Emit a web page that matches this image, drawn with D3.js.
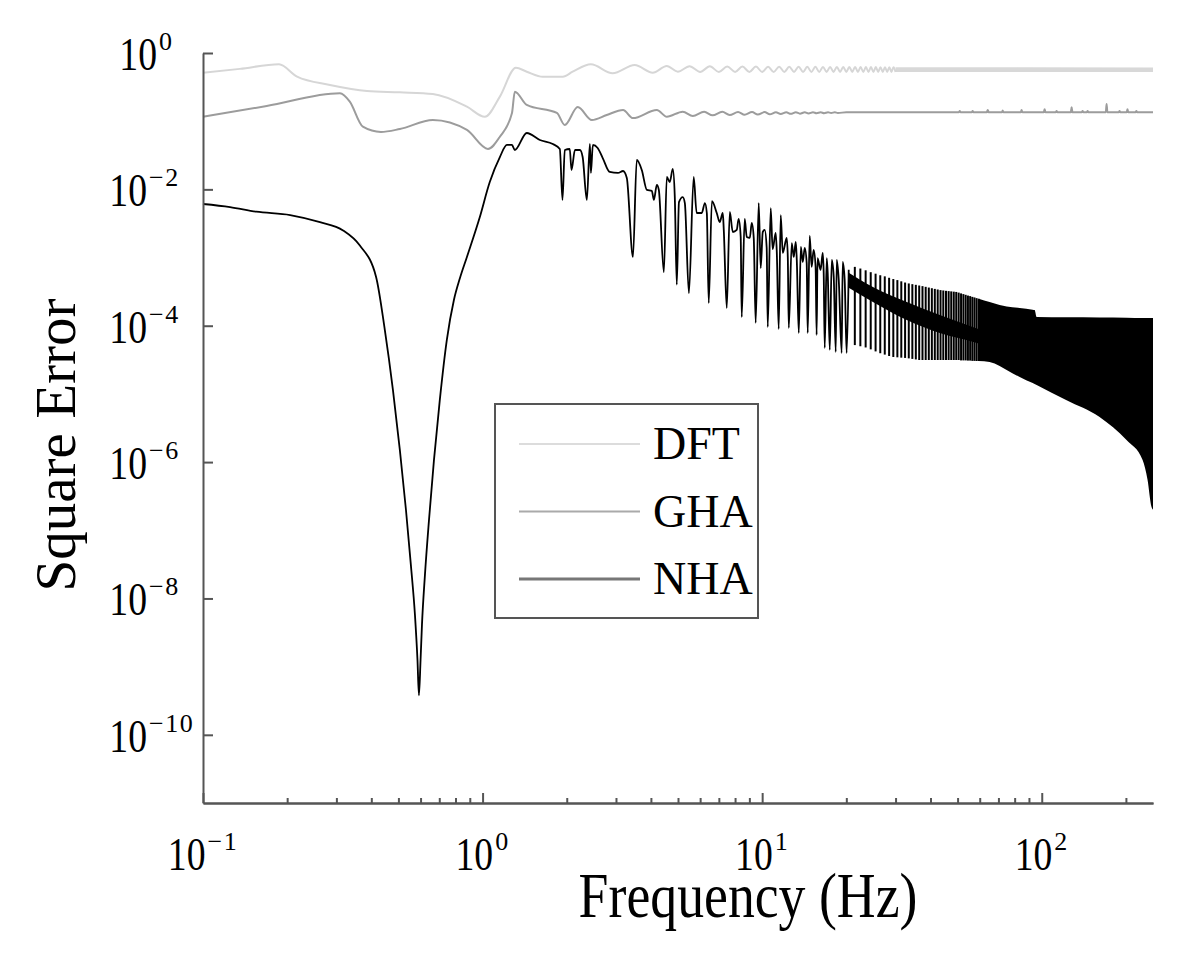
<!DOCTYPE html>
<html><head><meta charset="utf-8">
<script src="https://cdn.jsdelivr.net/npm/d3@7"></script>
<style>body{margin:0;background:#fff} svg{display:block}</style>
</head><body>
<svg id="c" width="1200" height="958"></svg>
<script>
// ---------- tick labels ----------
const xTickValues = [0.1, 1, 10, 100];
const xTickExponents = ["\u22121", "0", "1", "2"];
const yTickValues = [1, 1e-2, 1e-4, 1e-6, 1e-8, 1e-10];
const yTickExponents = ["0", "\u22122", "\u22124", "\u22126", "\u22128", "\u221210"];
const seriesNames = ["DFT", "GHA", "NHA"];
const xLabel = "Frequency (Hz)";
const yLabel = "Square Error";

// ---------- DFT [Hz, square error] ----------
const dftPoints = [[0.100,0.514],[0.1355,0.585],[0.187,0.683],[0.217,0.449],[0.2846,0.340],[0.386,0.277],[0.506,0.265],[0.664,0.250],[0.879,0.163],[1.019,0.116],[1.153,0.229],[1.315,0.609],[1.439,0.532],[1.643,0.449],[1.937,0.449],[2.10,0.532],[2.44,0.683],[2.92,0.504],[3.50,0.667],[4.06,0.514],[4.56,0.645],[4.99,0.532],[5.5,0.64],[6.0,0.528],[6.5,0.637],[7,0.528],[7.5,0.635],[8,0.528],[8.5,0.633],[9,0.528],[9.5,0.632],[10,0.528],[10.5,0.63],[11,0.528],[11.5,0.63],[12,0.528],[12.5,0.628],[13,0.528],[13.5,0.628],[14,0.528],[14.5,0.626],[15,0.528],[15.5,0.626],[16,0.528],[16.5,0.625],[17,0.528],[17.5,0.625],[18,0.528],[18.5,0.624],[19,0.528],[19.5,0.624],[20,0.528],[20.5,0.623],[21,0.528],[21.5,0.623],[22,0.528],[22.5,0.622],[23,0.528],[23.5,0.622],[24,0.528],[24.5,0.621],[25,0.528],[25.5,0.621],[26,0.528],[26.5,0.62],[27,0.528],[27.5,0.62],[28,0.528],[28.5,0.62],[29,0.528],[29.5,0.62],[30,0.528]];
// dense ripple band of DFT (too fine to resolve)
const dftBandFreq = [30, 250];
const dftBandUpper = [0.62, 0.615];
const dftBandLower = [0.528, 0.528];

// ---------- GHA ----------
const ghaPoints = [[0.100,0.116],[0.169,0.167],[0.309,0.256],[0.335,0.193],[0.373,0.083],[0.433,0.0694],[0.506,0.0768],[0.664,0.104],[0.879,0.0743],[1.045,0.0391],[1.153,0.0592],[1.274,0.132],[1.304,0.271],[1.439,0.173],[1.844,0.132],[1.968,0.088],[2.19,0.161],[2.46,0.104],[2.78,0.123],[3.18,0.146],[3.45,0.111],[4.20,0.146],[4.56,0.116],[5.20,0.138],[5.65,0.119],[6.2,0.137],[6.65,0.122],[7.2,0.137],[7.65,0.123],[8.2,0.136],[8.65,0.124],[9.2,0.136],[9.65,0.125],[10.2,0.136],[10.65,0.126],[11.2,0.135],[11.65,0.127],[12.2,0.135],[12.65,0.128],[13.2,0.135],[13.65,0.129],[14.2,0.135],[14.65,0.13],[15.2,0.135],[15.65,0.131],[16.2,0.135],[16.65,0.131],[17.2,0.135],[17.65,0.132],[18.2,0.135],[18.65,0.132],[20,0.135],[50.5,0.135],[50.9,0.141],[51.3,0.135],[56.2,0.135],[56.6,0.141],[57,0.135],[63.6,0.135],[64.1,0.146],[64.6,0.135],[72,0.135],[72.5,0.143],[73,0.135],[84.1,0.135],[84.7,0.146],[85.3,0.135],[101.7,0.135],[102.4,0.150],[103.1,0.135],[112.2,0.135],[113,0.141],[113.8,0.135],[127,0.135],[127.9,0.160],[128.8,0.135],[139,0.135],[140,0.141],[141,0.135],[145,0.135],[145.9,0.141],[146.8,0.135],[169.5,0.135],[170.6,0.179],[171.7,0.135],[188.6,0.135],[189.8,0.141],[191,0.135],[201.4,0.135],[202.6,0.150],[203.8,0.135],[216.6,0.135],[218,0.141],[219.4,0.135],[250,0.135]];

// ---------- NHA (resolved part) ----------
const nhaPoints = [[0.100,6.1e-3],[0.125,5.5e-3],[0.155,4.7e-3],[0.205,4.2e-3],[0.262,3.3e-3],[0.317,2.5e-3],[0.364,1.5e-3],[0.416,5.2e-4],[0.447,8.7e-5],[0.478,1.14e-5],[0.506,1.5e-6],[0.532,2.0e-7],[0.554,3.1e-8],[0.573,5.7e-9],[0.585,1.25e-9],[0.592,3.8e-10],[0.600,1.25e-9],[0.607,4.1e-9],[0.622,2.2e-8],[0.643,1.4e-7],[0.670,1.07e-6],[0.703,8.1e-6],[0.745,6.2e-5],[0.790,2.4e-4],[0.830,5.0e-4],[0.879,1.02e-3],[0.977,3.9e-3],[1.061,0.0128],[1.153,0.0298],[1.222,0.0448],[1.274,0.0448],[1.304,0.0378],[1.439,0.0671],[1.603,0.053],[1.783,0.0463],[1.889,0.0391],[1.931,0.0070],[1.968,0.0378],[2.05,0.0391],[2.08,0.0192],[2.14,0.0378],[2.23,0.0378],[2.28,0.0298],[2.36,0.0070],[2.42,0.0463],[2.44,0.0174],[2.48,0.0448],[2.58,0.0404],[2.69,0.0288],[2.85,0.0180],[3.05,0.0174],[3.18,0.0186],[3.28,0.0147],[3.45,0.00102],[3.56,0.0270],[3.71,0.0192],[3.87,0.0098],[4.03,0.0095],[4.10,0.0070],[4.20,0.0116],[4.27,0.0098],[4.45,0.00061],[4.56,0.0152],[4.67,0.0128],[4.79,0.0199],[4.87,0.0077],[4.95,0.00040],[5.04,0.0065],[5.20,0.0077],[5.29,0.0063],[5.47,0.00030],[5.69,0.0152],[5.83,0.0045],[6.08,0.0045],[6.24,0.0063],[6.34,0.0045],[6.44,0.000215],[6.61,0.0067],[6.88,0.0045],[7.05,0.00332],[7.23,0.0045],[7.29,0.00254],[7.47,0.000182],[7.66,0.00466],[7.85,0.00237],[8.11,0.00254],[8.24,0.00368],[8.38,0.00200],[8.45,0.000134],[8.66,0.00368],[8.81,0.00200],[9.03,0.00194],[9.18,0.00321],[9.33,0.00194],[9.48,0.000110],[9.72,0.0063],[9.88,0.00070],[10.05,0.00237],[10.21,0.00254],[10.38,0.00138],[10.47,0.0000958],[10.73,0.0053],[10.90,0.00133],[11.18,0.00229],[11.28,0.00121],[11.46,0.0000895],[11.65,0.0042],[11.85,0.00117],[12.24,0.00194],[12.35,0.00102],[12.45,0.0000926],[12.76,0.00163],[12.97,0.00102],[13.19,0.00169],[13.30,0.00092],[13.52,0.0000782],[13.75,0.00143],[13.97,0.00086],[14.2,0.00138],[14.43,0.00083],[14.55,0.0000782],[14.79,0.00207],[15.03,0.00073],[15.28,0.00129],[15.53,0.00073],[15.66,0.0000731],[15.78,0.00098],[16.18,0.00066],[16.47,0.00117],[16.60,0.00059],[16.74,0.0000471],[17.02,0.00098],[17.16,0.00059],[17.45,0.0000441],[17.74,0.00092],[18.03,0.00052],[18.33,0.0000412],[18.48,0.00092],[18.79,0.00047],[19.25,0.0000398],[19.41,0.00086],[19.73,0.00047],[20.05,0.0000398],[20.4,0.00066]];
// NHA spikes in the crowded range (one per visible spike)
const nhaSpikeFreq = [21.45,22.45,23.45,24.45,25.45,26.45,27.45,28.45,29.45,30.45,31.45,32.45,33.45,34.45,35.45,36.45,37.45,38.45,39.45,40.45,41.45,42.45,43.45,44.45,45.45,46.45,47.45,48.45,49.45,50.45,51.45,52.45,53.45,54.45,55.45,56.45,57.45,58.45,59.45];
const nhaSpikeTop = [7.3e-4,6.9e-4,6.5e-4,6.1e-4,5.8e-4,5.5e-4,5.3e-4,5.05e-4,4.84e-4,4.67e-4,4.48e-4,4.3e-4,4.17e-4,4.07e-4,3.98e-4,3.89e-4,3.81e-4,3.72e-4,3.63e-4,3.55e-4,3.47e-4,3.4e-4,3.33e-4,3.29e-4,3.25e-4,3.22e-4,3.19e-4,3.16e-4,3.13e-4,3.06e-4,2.98e-4,2.91e-4,2.84e-4,2.77e-4,2.72e-4,2.65e-4,2.6e-4,2.54e-4,2.49e-4];
const nhaSpikeBottom = [5.2e-5,5.0e-5,4.8e-5,4.5e-5,4.2e-5,3.95e-5,3.77e-5,3.6e-5,3.48e-5,3.44e-5,3.4e-5,3.37e-5,3.32e-5,3.26e-5,3.2e-5,3.14e-5,3.14e-5,3.14e-5,3.14e-5,3.14e-5,3.14e-5,3.14e-5,3.14e-5,3.14e-5,3.14e-5,3.14e-5,3.14e-5,3.14e-5,3.14e-5,3.14e-5,3.1e-5,3.1e-5,3.1e-5,3.08e-5,3.08e-5,3.05e-5,3.05e-5,3.04e-5,3.04e-5];
// NHA baseline (dark core between spikes)
const nhaCoreFreq = [20.4, 24.9, 32.9, 43.2, 56.6, 65.1];
const nhaCoreUpper = [6.0e-4, 3.7e-4, 2.23e-4, 1.44e-4, 9.6e-5, 7.8e-5];
const nhaCoreLower = [3.6e-4, 2.23e-4, 1.21e-4, 7.8e-5, 5.8e-5, 4.9e-5];
// NHA unresolved oscillation envelope (solid)
const nhaDenseFreq = [59.5, 65.1, 70.7, 74.9, 83.4, 92.8, 94.3, 95.9, 122.7, 161, 201, 229.5, 239, 247, 250];
const nhaDenseUpper = [2.49e-4, 2.23e-4, 2.01e-4, 1.92e-4, 1.82e-4, 1.72e-4, 1.70e-4, 1.34e-4, 1.33e-4, 1.32e-4, 1.31e-4, 1.30e-4, 1.30e-4, 1.30e-4, 1.30e-4];
const nhaDenseLower = [3.04e-5, 2.94e-5, 2.57e-5, 2.24e-5, 1.77e-5, 1.44e-5, 1.4e-5, 1.35e-5, 8.1e-6, 4.6e-6, 2.1e-6, 1.07e-6, 5.5e-7, 2.2e-7, 2.0e-7];

// ---------- drawing ----------
const FONT = "'Liberation Serif','Times New Roman',serif";
const AX = "#555";
const svg = d3.select("#c");
const x = d3.scaleLog().domain([0.1, 250]).range([203, 1153]);
const y = d3.scaleLog().domain([1e-11, 1]).range([803, 53]);

const smooth = d3.line().x(d => x(d[0])).y(d => y(d[1])).curve(d3.curveMonotoneX);
const straight = d3.line().x(d => x(d[0])).y(d => y(d[1]));
const band = d3.area().x(d => x(d.f)).y0(d => y(d.lo)).y1(d => y(d.hi)).curve(d3.curveMonotoneX);
const zipBand = (f, hi, lo) => f.map((v, i) => ({f: v, hi: hi[i], lo: lo[i]}));

const plot = svg.append("g");
// DFT
plot.append("path").datum(zipBand(dftBandFreq, dftBandUpper, dftBandLower))
  .attr("d", band).attr("fill", "#d8d8d8");
plot.append("path").datum(dftPoints).attr("d", smooth)
  .attr("fill", "none").attr("stroke", "#d6d6d6").attr("stroke-width", 2);
// GHA
plot.append("path").datum(ghaPoints).attr("d", smooth)
  .attr("fill", "none").attr("stroke", "#9c9c9c").attr("stroke-width", 2);
// NHA
plot.append("path").datum(zipBand(nhaCoreFreq, nhaCoreUpper, nhaCoreLower))
  .attr("d", band).attr("fill", "#000");
plot.selectAll(".spike").data(nhaSpikeFreq.map((f, i) => [[f, nhaSpikeTop[i]], [f, nhaSpikeBottom[i]]]))
  .enter().append("path").attr("class", "spike").attr("d", straight)
  .attr("stroke", "#000").attr("stroke-width", 2).attr("fill", "none");
plot.append("path").datum(zipBand(nhaDenseFreq, nhaDenseUpper, nhaDenseLower))
  .attr("d", band).attr("fill", "#000");
plot.append("path").datum(nhaPoints).attr("d", smooth)
  .attr("fill", "none").attr("stroke", "#000").attr("stroke-width", 1.8).attr("stroke-linejoin", "round");

// axes
const xMinor = x.ticks().filter(v => Math.abs(Math.log10(v) - Math.round(Math.log10(v))) > 1e-6);
const styleAxis = g => {
  g.selectAll("path,line").attr("stroke", AX).attr("stroke-width", 2);
  g.selectAll("text").remove();
};
svg.append("g").attr("transform", "translate(0,803)")
  .call(d3.axisBottom(x).tickValues(xMinor).tickSizeInner(-5).tickSizeOuter(0).tickFormat(""))
  .call(styleAxis);
svg.append("g").attr("transform", "translate(0,803)")
  .call(d3.axisBottom(x).tickValues(xTickValues).tickSizeInner(-10).tickSizeOuter(0).tickFormat(""))
  .call(styleAxis);
svg.append("g").attr("transform", "translate(203,0)")
  .call(d3.axisLeft(y).tickValues(yTickValues).tickSizeInner(-10).tickSizeOuter(0).tickFormat(""))
  .call(styleAxis);

// power-of-ten label: base "10" (condensed) + superscript exponent
const SX = 0.82, BASE = 46, SUP = 26;
function powerLabel(exp) {
  const g = svg.append("g");
  const b = g.append("text").attr("transform", `scale(${SX},1)`)
    .attr("font-family", FONT).attr("font-size", BASE).attr("fill", "#000").text("10");
  const bw = b.node().getComputedTextLength() * SX;
  const s = g.append("text").attr("x", bw + 2).attr("y", -20)
    .attr("font-family", FONT).attr("font-size", SUP).attr("letter-spacing", 1.5).attr("fill", "#000").text(exp);
  const sw = s.node().getComputedTextLength();
  return {g, bw, total: bw + 2 + sw};
}
xTickValues.forEach((v, i) => {
  const L = powerLabel(xTickExponents[i]);
  L.g.attr("transform", `translate(${x(v) - L.total / 2},870)`);
});
yTickValues.forEach((v, i) => {
  const neg = yTickExponents[i].startsWith("\u2212");
  const baseRight = neg ? 147 : 157;
  const L = powerLabel(yTickExponents[i]);
  L.g.attr("transform", `translate(${baseRight - L.bw},${y(v) + 17})`);
});

// axis titles
svg.append("text").attr("transform", "translate(748,917) scale(0.84,1)")
  .attr("text-anchor", "middle").attr("font-family", FONT).attr("font-size", 64).text(xLabel);
svg.append("text").attr("transform", "translate(75,445) rotate(-90)")
  .attr("text-anchor", "middle").attr("font-family", FONT).attr("font-size", 57).text(yLabel);

// legend
const legendColors = ["#dcdcdc", "#aaaaaa", "#777777"];
const legendWidths = [2, 2, 3];
const lg = svg.append("g");
lg.append("rect").attr("x", 495).attr("y", 404).attr("width", 263).attr("height", 214)
  .attr("fill", "#fff").attr("stroke", AX).attr("stroke-width", 2);
seriesNames.forEach((n, i) => {
  const ly = 444 + i * 67.5;
  lg.append("line").attr("x1", 519).attr("x2", 640).attr("y1", ly).attr("y2", ly)
    .attr("stroke", legendColors[i]).attr("stroke-width", legendWidths[i]);
  lg.append("text").attr("x", 653).attr("y", ly + 15).attr("font-family", FONT)
    .attr("font-size", 46).text(n);
});
</script>
</body></html>
